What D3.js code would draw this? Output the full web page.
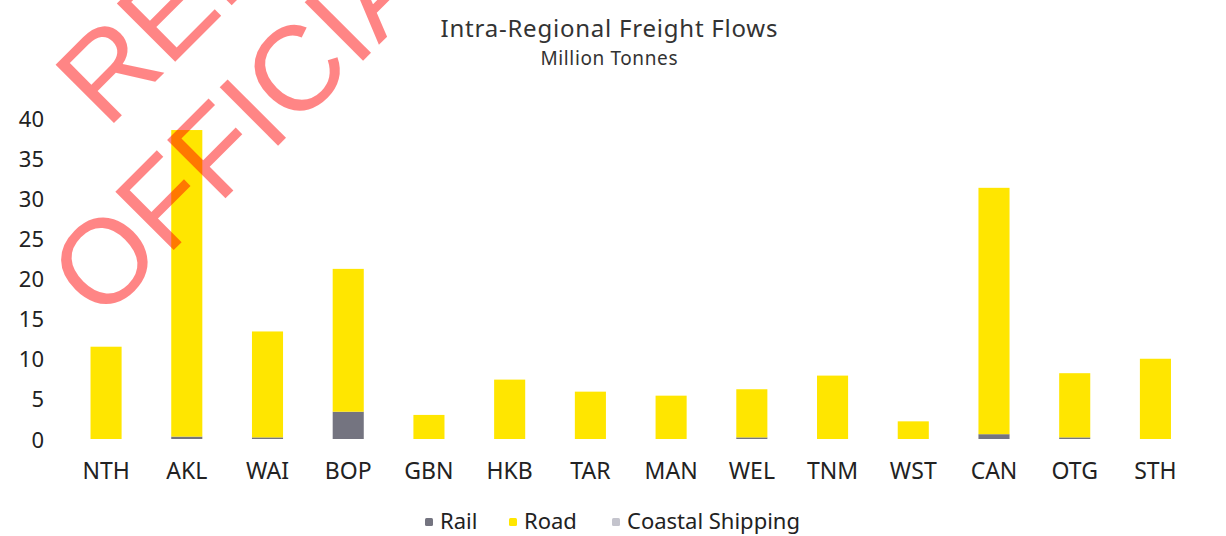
<!DOCTYPE html>
<html>
<head>
<meta charset="utf-8">
<script src="https://cdn.jsdelivr.net/npm/d3@7"></script>
<style>
  body { margin: 0; background: #fff; }
  svg { display: block; }
  .tick text { font-family: "Noto Sans", sans-serif; }
</style>
</head>
<body>
<svg width="1226" height="536"></svg>
<script>
// data (million tonnes)
var regions = ["NTH", "AKL", "WAI", "BOP", "GBN", "HKB", "TAR", "MAN", "WEL", "TNM", "WST", "CAN", "OTG", "STH"];
var rail    = [0,     0.3,   0.2,   3.4,   0,     0,     0,     0,     0.2,   0,     0,     0.6,   0.2,   0];
var road    = [11.5,  38.2,  13.2,  17.8,  3.0,   7.4,   5.9,   5.4,   6.0,   7.9,   2.2,   30.7,  8.0,   10.0];
var coastal = [0,     0,     0,     0,     0,     0,     0,     0,     0,     0,     0,     0,     0,     0];
var seriesNames = ["Rail", "Road", "Coastal Shipping"];
var seriesColors = ["#747480", "#ffe600", "#c4c4cd"];
var yTicks = [0, 5, 10, 15, 20, 25, 30, 35, 40];

var svg = d3.select("svg"),
    width = +svg.attr("width"),
    height = +svg.attr("height");

var font = "'Noto Sans', sans-serif";

var rows = regions.map(function(r, i) {
    return { region: r, "Rail": rail[i], "Road": road[i], "Coastal Shipping": coastal[i] };
});

var stack = d3.stack().keys(seriesNames)(rows);

var x = d3.scaleBand()
    .domain(regions)
    .range([65.5, 1196])
    .paddingInner(0.615)
    .paddingOuter(0.31);

var y = d3.scaleLinear()
    .domain([0, 40])
    .range([439, 118]);

var color = d3.scaleOrdinal().domain(seriesNames).range(seriesColors);

// title
svg.append("text")
    .attr("x", 609).attr("y", 37)
    .attr("text-anchor", "middle")
    .attr("textLength", 337)
    .style("font-family", font).style("font-size", "24px").style("fill", "#333")
    .text("Intra-Regional Freight Flows");
svg.append("text")
    .attr("x", 609).attr("y", 65)
    .attr("text-anchor", "middle")
    .attr("textLength", 137)
    .style("font-family", font).style("font-size", "19px").style("fill", "#333")
    .text("Million Tonnes");

// y axis (labels only)
var yAxis = svg.append("g")
    .attr("transform", "translate(44,1)")
    .call(d3.axisLeft(y).tickValues(yTicks).tickSize(0).tickPadding(0));
yAxis.select(".domain").remove();
yAxis.selectAll("text").style("font-size", "22px").style("fill", "#222");

// x axis
var xAxis = svg.append("g")
    .attr("transform", "translate(0,463)")
    .call(d3.axisBottom(x).tickSize(0).tickPadding(0));
xAxis.select(".domain").remove();
xAxis.selectAll("text").style("font-size", "23px").style("fill", "#222");

// bars
svg.append("g")
  .selectAll("g")
  .data(stack)
  .enter().append("g")
    .attr("fill", function(d) { return color(d.key); })
  .selectAll("rect")
  .data(function(d) { return d; })
  .enter().append("rect")
    .attr("x", function(d) { return x(d.data.region); })
    .attr("y", function(d) { return y(d[1]); })
    .attr("width", x.bandwidth())
    .attr("height", function(d) { return y(d[0]) - y(d[1]); });

// legend
var legendX = [425, 509, 612];
var legend = svg.append("g")
  .selectAll("g")
  .data(seriesNames)
  .enter().append("g")
    .attr("transform", function(d, i) { return "translate(" + legendX[i] + ",522)"; });
legend.append("rect")
    .attr("x", 0).attr("y", -4)
    .attr("width", 8).attr("height", 8)
    .attr("rx", 1.5)
    .attr("fill", function(d) { return color(d); });
legend.append("text")
    .attr("x", 15).attr("y", 7)
    .style("font-family", font).style("font-size", "22px").style("fill", "#222")
    .text(function(d) { return d; });

// watermark
var wm = svg.append("g")
    .attr("transform", "translate(107,130) rotate(-45)")
    .style("font-family", "'Liberation Sans', Arial, sans-serif")
    .style("font-size", "120px")
    .style("fill", "#ff0000")
    .style("fill-opacity", 0.48);
wm.append("text").attr("x", 0).attr("y", 0).text("RELEASED UNDER THE");
wm.append("text").attr("x", -141).attr("y", 132).text("OFFICIAL INFORMATION ACT");
</script>
</body>
</html>
